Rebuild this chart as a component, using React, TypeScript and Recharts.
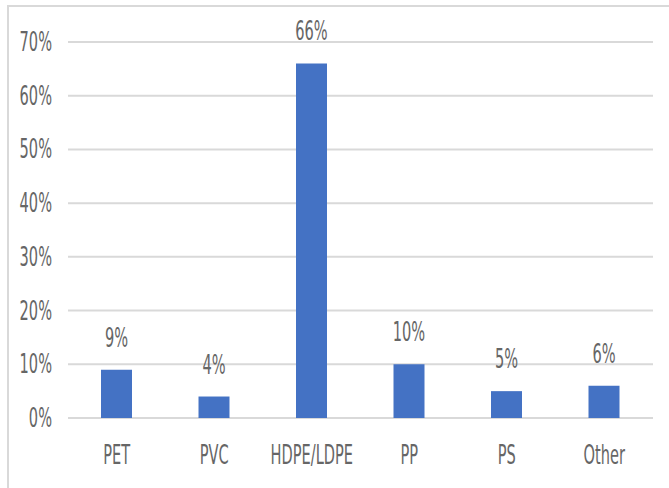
import React from "react";
import { BarChart, Bar, XAxis, YAxis, CartesianGrid, LabelList } from "recharts";

const categories = ["PET", "PVC", "HDPE/LDPE", "PP", "PS", "Other"];
const shares = [9, 4, 66, 10, 5, 6];
const yTicks = [0, 10, 20, 30, 40, 50, 60, 70];

const data = categories.map((name, i) => ({ name, value: shares[i] }));

const FONT = "'Liberation Sans Narrow', 'DejaVu Sans Condensed', sans-serif";
const TEXT = "#666666";

// the reference text is tall and narrow, so squeeze it sideways and stretch it upward
const Stretched: React.FC<{ x: number; y: number; anchor: string; children: React.ReactNode }> = ({
  x,
  y,
  anchor,
  children,
}) => (
  <g transform={`translate(${x},${y}) scale(0.9,1.45)`}>
    <text x={0} y={0} textAnchor={anchor} dominantBaseline="central" fontFamily={FONT} fontSize={18} fill={TEXT}>
      {children}
    </text>
  </g>
);

const YTick = (props: any) => {
  const { x, y, payload } = props;
  return (
    <Stretched x={x - 8} y={y} anchor="end">
      {payload.value}%
    </Stretched>
  );
};

const XTick = (props: any) => {
  const { x, y, payload } = props;
  return (
    <Stretched x={x} y={y + 29} anchor="middle">
      {payload.value}
    </Stretched>
  );
};

const ValueLabel = (props: any) => {
  const { x, y, width, value } = props;
  return (
    <Stretched x={x + width / 2} y={y - 32} anchor="middle">
      {value}%
    </Stretched>
  );
};

export default function App() {
  return (
    <div style={{ position: "absolute", left: 0, top: 0, width: 669, height: 488, background: "#fff", overflow: "hidden" }}>
      <div
        style={{
          position: "absolute",
          left: 7,
          top: 5,
          width: 700,
          height: 520,
          border: "2px solid #d9d9d9",
          boxSizing: "border-box",
        }}
      />
      <BarChart
        width={669}
        height={488}
        data={data}
        margin={{ top: 42, right: 16, bottom: 20, left: 0 }}
        barCategoryGap={0}
        style={{ position: "absolute", left: 0, top: 0 }}
      >
        <CartesianGrid vertical={false} stroke="#d9d9d9" strokeWidth={2} />
        <XAxis dataKey="name" axisLine={false} tickLine={false} height={50} tick={<XTick />} interval={0} />
        <YAxis
          domain={[0, 70]}
          ticks={yTicks}
          width={68}
          axisLine={false}
          tickLine={false}
          tick={<YTick />}
          interval={0}
        />
        <Bar dataKey="value" fill="#4472c4" barSize={31} isAnimationActive={false}>
          <LabelList dataKey="value" content={<ValueLabel />} />
        </Bar>
      </BarChart>
    </div>
  );
}
